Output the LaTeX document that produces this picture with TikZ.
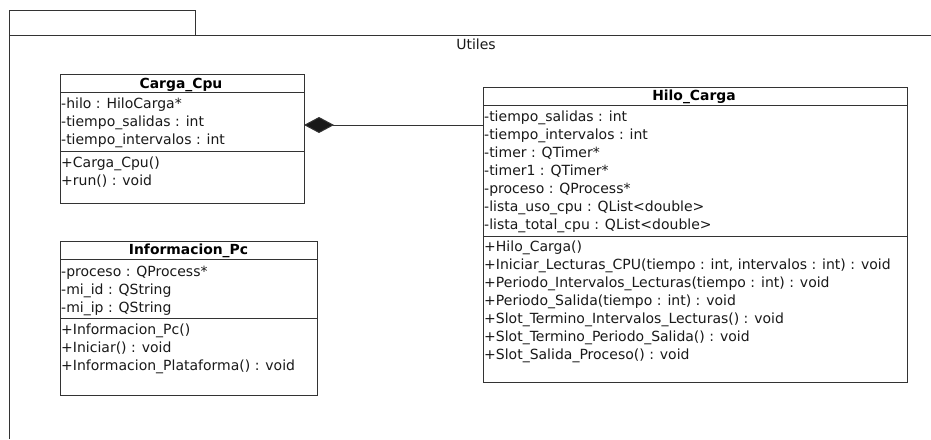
\documentclass[tikz,border=0pt]{standalone}
\usepackage{fontspec}
\setmainfont{DejaVu Sans}
\usetikzlibrary{arrows.meta}
\begin{document}
\begin{tikzpicture}[x=1pt,y=-1pt,
  edge/.style={draw=black!80, line width=1pt},
  classbox/.style={draw=black!80, line width=1pt, fill=white, anchor=north west,
    inner sep=0pt, outer sep=0pt},
  title/.style={font=\bfseries\fontsize{13.9}{16}\selectfont, inner sep=0pt,
    text height=11pt, text depth=2pt},
  member/.style={font=\fontsize{14}{16}\selectfont, anchor=west, inner sep=0pt,
    text height=11pt, text depth=2pt, text=black!90},
  composition/.style={edge, {Diamond[length=30pt,width=16pt,fill=black!90]}-}
]
\useasboundingbox (0,0) rectangle (931,439);

% package frame "Utiles"
\node[classbox, minimum width=186pt, minimum height=25pt] (tab) at (9,10) {};
\draw[edge] (9,439) -- (tab.south west) -- (931,35);
\node[member, anchor=center] (pkg) at (476,45) {Utiles};

% class Carga_Cpu
\node[classbox, minimum width=244pt, minimum height=129pt] (carga) at (60,74) {};
\draw[edge] (carga.west |- 0,92) -- (carga.east |- 0,92);
\draw[edge] (carga.west |- 0,151) -- (carga.east |- 0,151);
\node[title] (cargaT) at (181,83.5) {Carga\_Cpu};
\foreach \t [count=\i from 0] in {{-hilo : HiloCarga*},{-tiempo\_salidas : int},{-tiempo\_intervalos : int}}
  \node[member] (ca\i) at (61,103.5+18*\i) {\t};
\foreach \t [count=\i from 0] in {{+Carga\_Cpu()},{+run() : void}}
  \node[member] (cm\i) at (61,162.5+18*\i) {\t};

% class Informacion_Pc
\node[classbox, minimum width=257pt, minimum height=154pt] (info) at (60,241) {};
\draw[edge] (info.west |- 0,259) -- (info.east |- 0,259);
\draw[edge] (info.west |- 0,318) -- (info.east |- 0,318);
\node[title] (infoT) at (188.5,250) {Informacion\_Pc};
\foreach \t [count=\i from 0] in {{-proceso : QProcess*},{-mi\_id : QString},{-mi\_ip : QString}}
  \node[member] (ia\i) at (61,271.5+18*\i) {\t};
\foreach \t [count=\i from 0] in {{+Informacion\_Pc()},{+Iniciar() : void},{+Informacion\_Plataforma() : void}}
  \node[member] (im\i) at (61,329.5+18*\i) {\t};

% class Hilo_Carga
\node[classbox, minimum width=424pt, minimum height=295pt] (hilo) at (483,87) {};
\draw[edge] (hilo.west |- 0,105) -- (hilo.east |- 0,105);
\draw[edge] (hilo.west |- 0,236) -- (hilo.east |- 0,236);
\node[title] (hiloT) at (694,96) {Hilo\_Carga};
\foreach \t [count=\i from 0] in {{-tiempo\_salidas : int},{-tiempo\_intervalos : int},{-timer : QTimer*},{-timer1 : QTimer*},{-proceso : QProcess*},{-lista\_uso\_cpu : QList<double>},{-lista\_total\_cpu : QList<double>}}
  \node[member] (ha\i) at (484,117+18*\i) {\t};
\foreach \t [count=\i from 0] in {{+Hilo\_Carga()},{+Iniciar\_Lecturas\_CPU(tiempo : int, intervalos : int) : void},{+Periodo\_Intervalos\_Lecturas(tiempo : int) : void},{+Periodo\_Salida(tiempo : int) : void},{+Slot\_Termino\_Intervalos\_Lecturas() : void},{+Slot\_Termino\_Periodo\_Salida() : void},{+Slot\_Salida\_Proceso() : void}}
  \node[member] (hm\i) at (484,247+18*\i) {\t};

% composition: Carga_Cpu owns Hilo_Carga
\coordinate (link) at (0,125);
\draw[composition] (carga.east |- link) -- (hilo.west |- link);
\end{tikzpicture}
\end{document}
